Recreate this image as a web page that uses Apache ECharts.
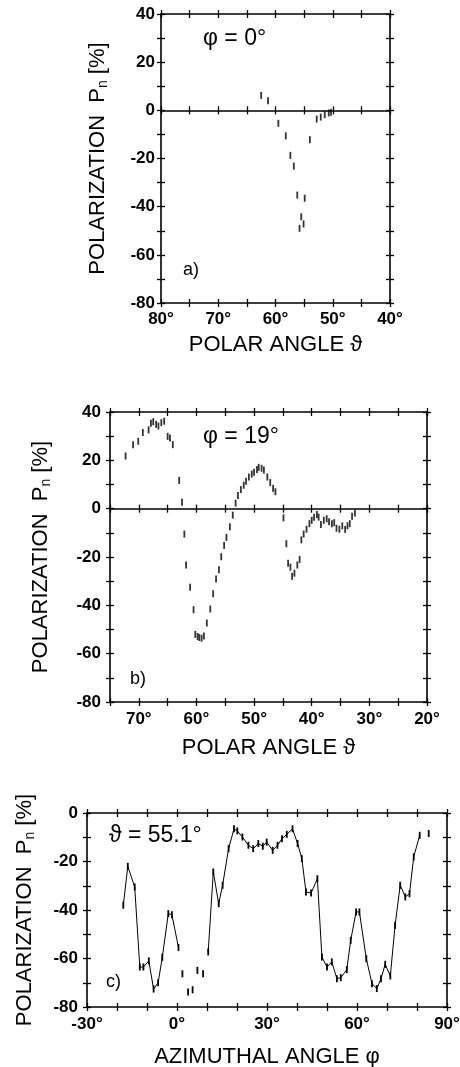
<!DOCTYPE html>
<html>
<head>
<meta charset="utf-8">
<script src="https://cdn.jsdelivr.net/npm/echarts@6/dist/echarts.min.js"></script>
<style>
html,body{margin:0;padding:0;background:#fff;}
#chart{width:460px;height:1067px;}
</style>
</head>
<body>
<div id="chart"></div>
<script>
// ---------- DATA ----------
// Panel a: phi = 0 deg, polarization vs polar angle
const thetaA = [62.5, 61.3, 59.5, 58.2, 57.4, 56.8, 56.2, 55.5, 55.8, 55.1, 54.9, 54.0, 52.8, 52.1, 51.4, 50.7, 50.3];
const polA   = [6.2, 4.0, -5.4, -10.6, -18.7, -23.2, -35.2, -44.2, -49.0, -47.2, -36.5, -12.2, -3.6, -2.8, -1.8, -1.1, -0.8];

// Panel b: phi = 19 deg
const thetaB = [72.3, 71.0, 70.1, 69.3, 68.3, 67.9, 67.5, 67.0, 66.6, 66.1,
                65.6, 65.0, 64.6, 64.1, 63.0, 62.5, 62.1, 61.8, 61.1, 60.5,
                60.2, 59.8, 59.5, 59.1, 58.7, 58.2, 57.6, 57.1, 56.6, 56.1,
                55.7, 55.2, 54.8, 54.2, 53.7, 53.2, 52.8, 52.3, 51.8, 51.4,
                50.9, 50.4, 50.0, 49.5, 49.2, 48.7, 48.3, 47.7, 47.2, 46.7,
                46.3, 44.9, 44.4, 44.1, 43.7, 43.4, 43.0, 42.5, 42.1, 41.8,
                41.4, 40.9, 40.4, 40.0, 39.6, 39.1, 38.8, 38.4, 37.9, 37.4,
                37.0, 36.5, 36.1, 35.7, 35.2, 34.7, 34.2, 33.8, 33.4, 33.0,
                32.5];
const polB   = [21.8, 26.5, 27.9, 31.5, 32.6, 35.3, 36.0, 34.9, 34.2, 35.6,
                36.2, 29.9, 29.2, 26.5, 11.7, 2.7, -10.5, -23.3, -32.5, -41.8,
                -52.0, -52.9, -53.3, -53.6, -52.7, -47.3, -41.5, -35.2, -29.1, -25.3,
                -19.9, -15.2, -11.9, -7.5, -2.7, 2.3, 5.4, 7.9, 9.7, 11.3,
                13.1, 14.3, 15.1, 16.2, 17.1, 16.7, 16.0, 13.1, 10.8, 8.4,
                7.0, -3.8, -14.5, -22.6, -24.2, -28.0, -26.7, -23.3, -21.0, -12.9,
                -10.5, -8.5, -6.2, -4.8, -3.5, -2.4, -3.5, -6.5, -4.8, -4.2,
                -5.4, -6.2, -5.8, -8.1, -8.5, -7.1, -8.6, -7.1, -6.2, -3.1,
                -1.8];

// Panel c: theta = 55.1 deg, polarization vs azimuthal angle
const phiC = [-17.9, -16.4, -14.1, -12.4, -11.2, -9.4, -7.8, -6.3, -4.9, -2.9,
              -1.7, 0.5, 1.8, 3.7, 5.2, 6.8, 8.7, 10.4, 12.1, 13.9,
              15.2, 17.2, 19.0, 20.1, 21.8, 23.8, 25.4, 27.1, 28.6, 29.9,
              31.9, 33.5, 35.0, 36.6, 38.5, 40.2, 41.6, 43.0, 44.7, 46.8,
              48.3, 50.0, 51.6, 53.3, 54.6, 56.6, 57.9, 59.7, 60.8, 63.1,
              65.0, 66.6, 68.0, 69.4, 71.1, 72.7, 74.4, 76.1, 77.5, 78.9,
              80.9, 83.9];
const polC = [-38.0, -22.0, -30.5, -63.5, -63.5, -61.0, -72.6, -70.0, -59.5, -41.5,
              -42.0, -55.5, -66.3, -73.8, -72.9, -64.9, -66.3, -57.3, -24.3, -37.4,
              -29.8, -14.7, -6.5, -7.4, -9.9, -13.3, -14.7, -12.6, -13.7, -12.0,
              -15.4, -13.3, -10.6, -8.8, -6.5, -12.6, -18.8, -32.6, -33.0, -27.1,
              -59.4, -63.5, -61.4, -68.3, -67.9, -64.6, -52.5, -40.8, -40.8, -60.1,
              -70.4, -72.4, -68.3, -62.4, -67.2, -46.3, -29.8, -34.6, -33.3, -18.1,
              -9.2, -8.5];
// points of panel c that are not joined to their neighbours by the line
const isolatedC = [1.8, 3.7, 5.2, 6.8, 8.7, 83.9];

// tick labels
const thetaTicksA = [80, 70, 60, 50, 40];
const thetaTicksB = [70, 60, 50, 40, 30, 20];
const phiTicksC = [-30, 0, 30, 60, 90];
const polTicksAB = [40, 20, 0, -20, -40, -60, -80];
const polTicksC = [0, -20, -40, -60, -80];

// ---------- CHART ----------
const FONT = "'Liberation Sans', Arial, sans-serif";
const BLACK = '#000';
const xAxes = [], yAxes = [], grids = [], series = [];

const Y_NAME = 'POLARIZATION  P{sub|n} [%]';
const nameRich = { sub: { fontSize: 14, fontFamily: FONT, color: BLACK, verticalAlign: 'bottom', padding: [10, 0, 0, 0] } };

function baseAxis(gi, range, extra) {
  return Object.assign({
    type: 'value', gridIndex: gi,
    min: range.min, max: range.max, interval: range.interval, inverse: !!range.inverse,
    splitLine: { show: false },
    axisLabel: { show: false },
    axisTick: { show: false },
    axisLine: { show: false, onZero: false },
    silent: true
  }, extra);
}
function tick(inside) {
  return { show: true, inside: inside, length: 4, lineStyle: { color: BLACK, width: 1.3 } };
}
const LINE = { show: true, onZero: false, lineStyle: { color: BLACK, width: 1.6 } };

function addPanel(p) {
  const gi = grids.length;
  grids.push(Object.assign({ outerBoundsMode: 'none', containLabel: false }, p.grid));
  const xb = xAxes.length, yb = yAxes.length;
  const labelSet = (set) => (v) => set.indexOf(v) >= 0;
  const xLbl = labelSet(p.xTicks), yLbl = labelSet(p.yTicks);
  // x bottom main
  xAxes.push(baseAxis(gi, p.x, {
    position: 'bottom', axisLine: LINE, axisTick: tick(false),
    axisLabel: { show: true, margin: p.xLabelMargin, color: BLACK, fontFamily: FONT, fontWeight: 'bold', fontSize: 17,
      formatter: (v) => xLbl(v) ? v + '°' : '' , showMinLabel: true, showMaxLabel: true},
    name: p.xName, nameLocation: 'middle', nameGap: p.xNameGap,
    nameTextStyle: { color: BLACK, fontFamily: FONT, fontSize: 22 }
  }));
  xAxes.push(baseAxis(gi, p.x, { position: 'bottom', axisTick: tick(true) }));
  xAxes.push(baseAxis(gi, p.x, { position: 'top', axisLine: LINE, axisTick: tick(false) }));
  xAxes.push(baseAxis(gi, p.x, { position: 'top', axisTick: tick(true) }));
  if (p.zero) {
    xAxes.push(baseAxis(gi, p.x, { position: 'bottom', axisLine: { show: true, onZero: true, onZeroAxisIndex: yb, lineStyle: { color: BLACK, width: 1.6 } }, axisTick: tick(false) }));
    xAxes.push(baseAxis(gi, p.x, { position: 'bottom', axisLine: { show: false, onZero: true, onZeroAxisIndex: yb }, axisTick: tick(true) }));
  }
  yAxes.push(baseAxis(gi, p.y, {
    position: 'left', axisLine: LINE, axisTick: tick(false),
    axisLabel: { show: true, margin: p.yLabelMargin, color: BLACK, fontFamily: FONT, fontWeight: 'bold', fontSize: 17,
      formatter: (v) => yLbl(v) ? String(v) : '', showMinLabel: true, showMaxLabel: true },
    name: Y_NAME, nameLocation: 'middle', nameGap: p.yNameGap, nameRotate: 90,
    nameTextStyle: { color: BLACK, fontFamily: FONT, fontSize: 22, rich: nameRich }
  }));
  yAxes.push(baseAxis(gi, p.y, { position: 'left', axisTick: tick(true) }));
  yAxes.push(baseAxis(gi, p.y, { position: 'right', axisLine: LINE, axisTick: tick(false) }));
  yAxes.push(baseAxis(gi, p.y, { position: 'right', axisTick: tick(true) }));
  return { xi: xb, yi: yb };
}

function pairs(xs, ys) { return xs.map((x, i) => [x, ys[i]]); }

const ERR_BAR = { symbol: 'rect', symbolSize: [1.8, 7], itemStyle: { color: BLACK } };

// Panel a
const pa = addPanel({
  grid: { left: 161, top: 14, width: 229, height: 289 },
  x: { min: 40, max: 80, interval: 5, inverse: true },
  y: { min: -80, max: 40, interval: 10 },
  xTicks: thetaTicksA, yTicks: polTicksAB, zero: true,
  xName: 'POLAR ANGLE ϑ', xNameGap: 31, yNameGap: 51, xLabelMargin: 8, yLabelMargin: 6
});
series.push(Object.assign({ type: 'scatter', xAxisIndex: pa.xi, yAxisIndex: pa.yi, data: pairs(thetaA, polA), silent: true }, ERR_BAR));

// Panel b
const pb = addPanel({
  grid: { left: 110, top: 412, width: 317, height: 290 },
  x: { min: 20, max: 75, interval: 5, inverse: true },
  y: { min: -80, max: 40, interval: 10 },
  xTicks: thetaTicksB, yTicks: polTicksAB, zero: true,
  xName: 'POLAR ANGLE ϑ', xNameGap: 35, yNameGap: 57, xLabelMargin: 9, yLabelMargin: 9
});
series.push(Object.assign({ type: 'scatter', xAxisIndex: pb.xi, yAxisIndex: pb.yi, data: pairs(thetaB, polB), silent: true }, ERR_BAR));

// Panel c
const pc = addPanel({
  grid: { left: 87, top: 813, width: 360, height: 194 },
  x: { min: -30, max: 90, interval: 10 },
  y: { min: -80, max: 0, interval: 10 },
  xTicks: phiTicksC, yTicks: polTicksC, zero: false,
  xName: 'AZIMUTHAL ANGLE φ', xNameGap: 39, yNameGap: 50, xLabelMargin: 9, yLabelMargin: 9
});
const lineDataC = [];
phiC.forEach((x, i) => {
  if (i > 0 && (isolatedC.indexOf(x) >= 0 || isolatedC.indexOf(phiC[i - 1]) >= 0)) lineDataC.push(null);
  lineDataC.push([x, polC[i]]);
});
series.push({
  type: 'line', xAxisIndex: pc.xi, yAxisIndex: pc.yi, data: lineDataC, connectNulls: false,
  showAllSymbol: true, symbol: 'rect', symbolSize: [1.8, 7], itemStyle: { color: BLACK },
  lineStyle: { color: BLACK, width: 1 }, silent: true, animation: false
});

const annStyle = (txt, size) => ({ text: txt, fill: BLACK, font: size + 'px ' + FONT });
const graphic = [
  { type: 'text', left: 203, top: 27, style: annStyle('φ = 0°', 23) },
  { type: 'text', left: 183, top: 261, style: annStyle('a)', 18) },
  { type: 'text', left: 203, top: 425, style: annStyle('φ = 19°', 23) },
  { type: 'text', left: 130, top: 670, style: annStyle('b)', 18) },
  { type: 'text', left: 109, top: 824, style: annStyle('ϑ = 55.1°', 23) },
  { type: 'text', left: 106, top: 973, style: annStyle('c)', 18) }
];

const chart = echarts.init(document.getElementById('chart'), null, { renderer: 'canvas' });
chart.setOption({
  animation: false,
  backgroundColor: '#fff',
  grid: grids,
  xAxis: xAxes,
  yAxis: yAxes,
  series: series,
  graphic: graphic
});
</script>
</body>
</html>
